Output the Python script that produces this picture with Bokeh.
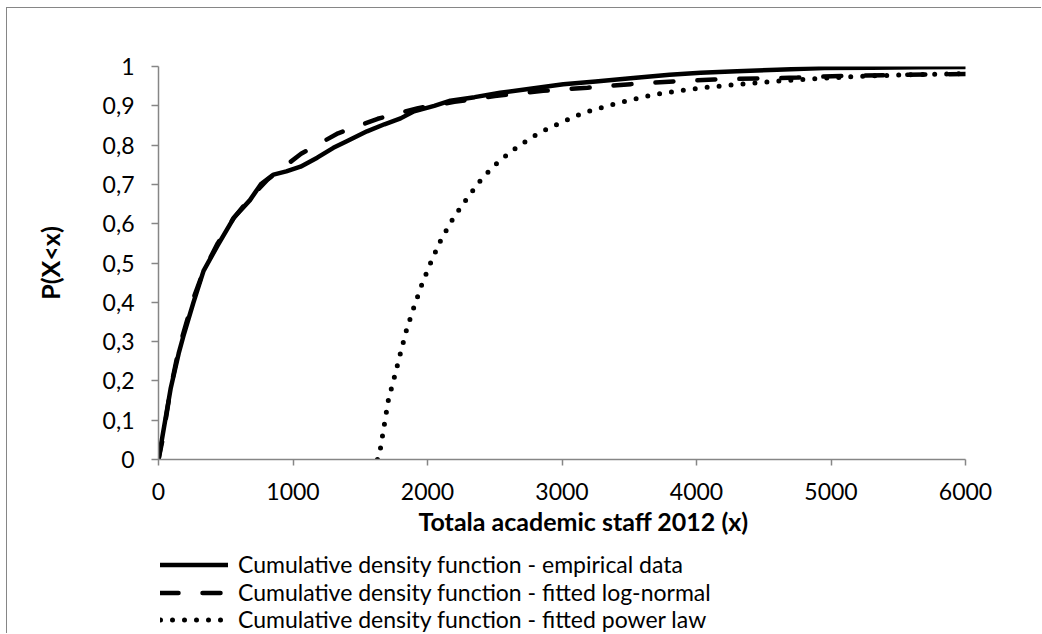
from bokeh.plotting import figure
from bokeh.layouts import column
from bokeh.models import (Range1d, FixedTicker, CustomJSTickFormatter, Legend, LegendItem, Title)
from bokeh.embed import file_html
from bokeh.resources import INLINE

# ---- data ----
emp_x = [0, 30, 90, 150, 190, 260, 335, 440, 560, 680, 760, 855, 950, 1056, 1180, 1300, 1400,
         1550, 1680, 1800, 1900, 2050, 2170, 2350, 2540, 2750, 3010, 3250, 3530, 3800, 4030,
         4300, 4600, 4950, 5300, 5650, 6000]
emp_y = [0, 0.06, 0.18, 0.27, 0.32, 0.40, 0.48, 0.545, 0.615, 0.66, 0.70, 0.725, 0.733, 0.745,
         0.768, 0.793, 0.81, 0.835, 0.853, 0.868, 0.886, 0.90, 0.913, 0.922, 0.933, 0.943,
         0.955, 0.962, 0.971, 0.979, 0.984, 0.988, 0.992, 0.996, 0.997, 0.998, 0.999]

logn_x = [0, 30, 90, 150, 260, 335, 440, 560, 680, 810, 1060, 1335, 1630, 1930, 2200, 2500,
          2860, 3190, 3510, 3830, 4130, 4500, 4750, 5090, 5420, 5720, 6000]
logn_y = [0, 0.05, 0.18, 0.28, 0.41, 0.48, 0.55, 0.615, 0.665, 0.712, 0.778, 0.83, 0.867,
          0.894, 0.91, 0.925, 0.938, 0.946, 0.955, 0.962, 0.967, 0.970, 0.972, 0.976, 0.978,
          0.980, 0.981]

pow_x = [1628, 1651, 1710, 1755, 1800, 1845, 1903, 1963, 2030, 2104, 2193, 2297, 2409, 2535,
         2677, 2830, 2990, 3160, 3340, 3510, 3680, 3860, 4045, 4230, 4570, 4940, 5220, 5580,
         5850, 6000]
pow_y = [0, 0.03, 0.153, 0.211, 0.272, 0.331, 0.392, 0.45, 0.506, 0.562, 0.615, 0.666, 0.717,
         0.76, 0.798, 0.831, 0.857, 0.882, 0.90, 0.915, 0.928, 0.938, 0.946, 0.952, 0.962,
         0.970, 0.975, 0.979, 0.981, 0.982]

x_ticks = [0, 1000, 2000, 3000, 4000, 5000, 6000]
y_ticks = [0, 0.1, 0.2, 0.3, 0.4, 0.5, 0.6, 0.7, 0.8, 0.9, 1]

series_labels = ["Cumulative density function - empirical data",
                 "Cumulative density function - fitted log-normal",
                 "Cumulative density function - fitted power law"]
x_title = "Totala academic staff 2012 (x)"
y_title = "P(X<x)"

FONT = "Lato"
AXIS_COLOR = "#868686"
STYLES = [dict(line_color="black", line_width=4.5, line_cap="round", line_join="round"),
          dict(line_color="black", line_width=4.5, line_dash="18 24", line_cap="round"),
          dict(line_color="black", line_width=5, line_dash="0 12", line_cap="round")]

# ---- main chart ----
p = figure(width=1034, height=530, output_backend="svg", toolbar_location=None,
           x_range=Range1d(0, 6000), y_range=Range1d(0, 1),
           min_border_left=151, min_border_right=76, min_border_top=58, min_border_bottom=79)
p.outline_line_color = None
p.xgrid.visible = False
p.ygrid.visible = False

p.line(emp_x, emp_y, **STYLES[0])
p.line(logn_x, logn_y, **STYLES[1])
p.line(pow_x, pow_y, **STYLES[2])

for ax in (p.xaxis[0], p.yaxis[0]):
    ax.axis_line_color = AXIS_COLOR
    ax.axis_line_width = 1.5
    ax.major_tick_line_color = AXIS_COLOR
    ax.major_tick_line_width = 1.5
    ax.major_tick_in = 0
    ax.minor_tick_line_color = None
    ax.major_label_text_font = FONT
    ax.major_label_text_font_size = "23px"
    ax.major_label_text_color = "black"
    ax.axis_label_text_font = FONT
    ax.axis_label_text_font_size = "25px"
    ax.axis_label_text_font_style = "bold"
    ax.axis_label_text_color = "black"

p.xaxis.ticker = FixedTicker(ticks=x_ticks)
p.xaxis.major_tick_out = 6
p.xaxis.major_label_standoff = 17

p.add_layout(Title(text=x_title, align="left", offset=260, text_font=FONT,
                   text_font_size="25px", text_font_style="bold", text_color="black",
                   standoff=3), "below")

p.yaxis.ticker = FixedTicker(ticks=y_ticks)
p.yaxis.major_tick_out = 7
p.yaxis.major_label_standoff = 17
p.yaxis.formatter = CustomJSTickFormatter(code="""
if (Math.abs(tick) < 1e-9) return '0';
if (Math.abs(tick - 1) < 1e-9) return '1';
return tick.toFixed(1).replace('.', ',');
""")
p.yaxis.axis_label = y_title
p.yaxis.axis_label_standoff = 35

# ---- legend strip (one legend per row, for the reference's row pitch) ----
q = figure(width=1034, height=95, output_backend="svg", toolbar_location=None,
           x_range=Range1d(0, 1), y_range=Range1d(0, 1), x_axis_type=None, y_axis_type=None,
           min_border_left=0, min_border_right=0, min_border_top=0, min_border_bottom=0)
q.outline_line_color = None
q.xgrid.visible = False
q.ygrid.visible = False
# legend-only renderers, kept outside the visible range
dummies = [q.line([-5, -4], [-5, -4], **s) for s in STYLES]

for lab, r, ypos in zip(series_labels, dummies, [55, 27, 0]):
    lg = Legend(items=[LegendItem(label=lab, renderers=[r])], location=(2, ypos),
                orientation="vertical")
    lg.label_text_font = FONT
    lg.label_text_font_size = "23px"
    lg.label_text_color = "black"
    lg.glyph_width = 68
    lg.glyph_height = 27
    lg.label_height = 27
    lg.label_standoff = 10
    lg.spacing = 0
    lg.padding = 0
    lg.margin = 0
    lg.border_line_color = None
    lg.background_fill_alpha = 0
    q.add_layout(lg, "center")

layout = column(p, q, spacing=0)
layout.styles = {"border-left": "1px solid #868686", "border-top": "1px solid #868686",
                 "margin-left": "6px", "margin-top": "7px"}

open("out.html", "w").write(file_html(layout, INLINE))
